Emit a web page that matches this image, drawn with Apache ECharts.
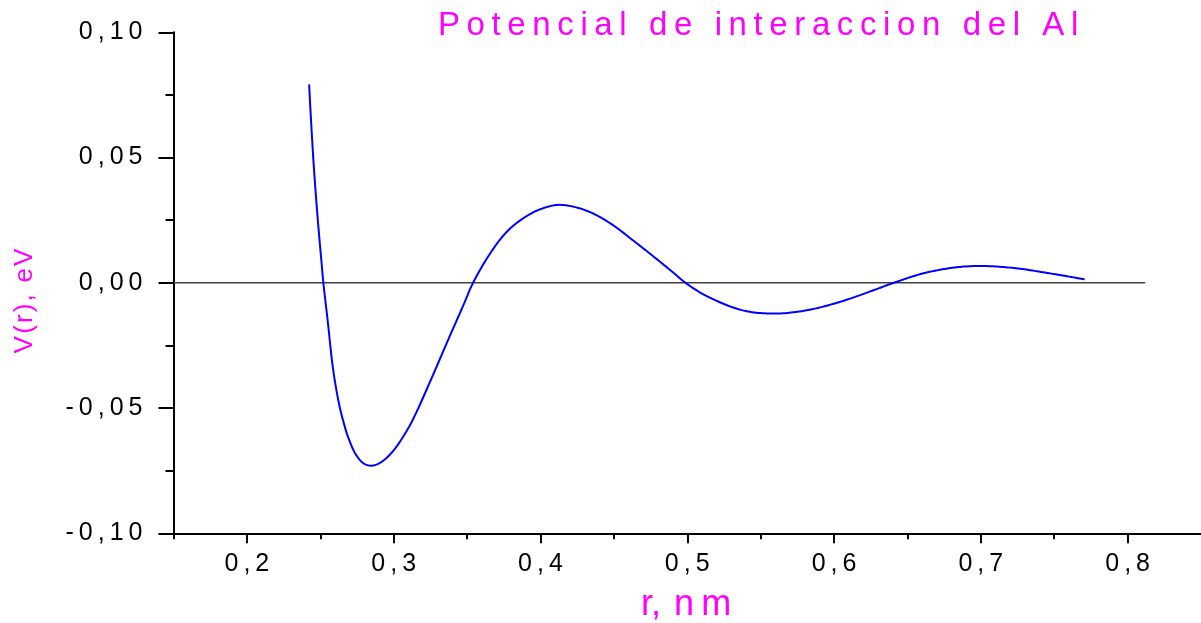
<!DOCTYPE html>
<html>
<head>
<meta charset="utf-8">
<script src="https://cdn.jsdelivr.net/npm/echarts@6/dist/echarts.min.js"></script>
<style>
  html, body { margin: 0; padding: 0; background: #ffffff; }
  #chart { width: 1201px; height: 623px; }
</style>
</head>
<body>
<div id="chart"></div>
<script>
// Interatomic pair potential of aluminium, V(r) in eV against r in nm
const rValues = [0.2424, 0.2433, 0.2453, 0.2469, 0.2487, 0.2507, 0.2521, 0.2550, 0.2588, 0.2627,
                 0.2656, 0.2689, 0.2743, 0.2798, 0.2852, 0.2912, 0.2994, 0.3095, 0.3149, 0.3253,
                 0.3365, 0.3478, 0.3541, 0.3658, 0.3771, 0.3884, 0.3996, 0.4120, 0.4244, 0.4357,
                 0.4492, 0.4627, 0.4785, 0.4898, 0.4988, 0.5123, 0.5371, 0.5596, 0.5821, 0.6047,
                 0.6272, 0.6407, 0.6610, 0.6835, 0.7015, 0.7240, 0.7466, 0.7707];
const vValues = [0.0792, 0.0690, 0.0490, 0.0357, 0.0224, 0.0091, 0.0000, -0.0149, -0.0348, -0.0481,
                 -0.0551, -0.0615, -0.0686, -0.0722, -0.0730, -0.0717, -0.0673, -0.0585, -0.0524, -0.0388,
                 -0.0236, -0.0085, 0.0000, 0.0118, 0.0204, 0.0258, 0.0293, 0.0311, 0.0301, 0.0277,
                 0.0231, 0.0171, 0.0098, 0.0044, 0.0000, -0.0050, -0.0109, -0.0123, -0.0109, -0.0075,
                 -0.0029, 0.0000, 0.0038, 0.0062, 0.0067, 0.0058, 0.0038, 0.0014];

// Reference line V = 0
const zeroLineR = [0.15, 0.812];
const zeroLineV = [0, 0];

// Axis ticks
const xMajorTicks = [0.2, 0.3, 0.4, 0.5, 0.6, 0.7, 0.8];
const xMinorTicks = [0.15, 0.25, 0.35, 0.45, 0.55, 0.65, 0.75];

const titleText = 'Potencial de interaccion del Al';
const xName = 'r,\u200A n\u2009m';
const yName = 'V(r), eV';

const THIN = '\u2009';
const HAIR = '\u200A';
const spaced = (s, gap) => s.split('').join(gap || THIN);
const FONT = '"Liberation Sans", Arial, Helvetica, sans-serif';
const MAGENTA = '#FF00FF';

// Centripetal Catmull-Rom through pixel points, sampled into a polyline
function splinePoints(pts, steps) {
  const n = pts.length;
  const get = i => {
    if (i < 0) return [2 * pts[0][0] - pts[1][0], 2 * pts[0][1] - pts[1][1]];
    if (i >= n) return [2 * pts[n - 1][0] - pts[n - 2][0], 2 * pts[n - 1][1] - pts[n - 2][1]];
    return pts[i];
  };
  const knot = (a, b) => Math.sqrt(Math.hypot(b[0] - a[0], b[1] - a[1])) || 1e-4;
  const out = [pts[0].slice()];
  for (let i = 0; i < n - 1; i++) {
    const p0 = get(i - 1), p1 = get(i), p2 = get(i + 1), p3 = get(i + 2);
    const t01 = knot(p0, p1), t12 = knot(p1, p2), t23 = knot(p2, p3);
    const c1 = [], c2 = [];
    for (let k = 0; k < 2; k++) {
      const m1 = t12 * ((p1[k] - p0[k]) / t01 - (p2[k] - p0[k]) / (t01 + t12) + (p2[k] - p1[k]) / t12);
      const m2 = t12 * ((p2[k] - p1[k]) / t12 - (p3[k] - p1[k]) / (t12 + t23) + (p3[k] - p2[k]) / t23);
      c1[k] = p1[k] + m1 / 3;
      c2[k] = p2[k] - m2 / 3;
    }
    for (let s = 1; s <= steps; s++) {
      const t = s / steps, u = 1 - t;
      const a = u * u * u, b = 3 * u * u * t, c = 3 * u * t * t, d = t * t * t;
      out.push([a * p1[0] + b * c1[0] + c * c2[0] + d * p2[0],
                a * p1[1] + b * c1[1] + c * c2[1] + d * p2[1]]);
    }
  }
  return out;
}

const chart = echarts.init(document.getElementById('chart'), null, { renderer: 'canvas' });

const axisLine = { show: true, onZero: false, lineStyle: { color: '#000', width: 2 } };

chart.setOption({
  animation: false,
  backgroundColor: '#ffffff',
  title: {
    text: spaced(titleText),
    left: 438,
    top: 9,
    padding: 0,
    textStyle: { color: MAGENTA, fontSize: 33, fontWeight: 'normal', fontFamily: FONT }
  },
  grid: { left: 173.5, top: 32.3, width: 1035.6, height: 501, containLabel: false },
  xAxis: [
    {
      type: 'value', min: 0.15, max: 0.85, position: 'bottom',
      axisLine: axisLine,
      axisTick: { show: true, customValues: xMajorTicks, length: 10, lineStyle: { color: '#000', width: 2 } },
      axisLabel: {
        show: true, customValues: xMajorTicks, margin: 18,
        color: '#000', fontSize: 25, fontFamily: FONT,
        formatter: v => spaced(v.toFixed(1).replace('.', ','))
      },
      splitLine: { show: false }
    },
    {
      type: 'value', min: 0.15, max: 0.85, position: 'bottom', offset: 0,
      axisLine: axisLine,
      axisTick: { show: true, customValues: xMinorTicks, length: 6, lineStyle: { color: '#000', width: 2 } },
      axisLabel: { show: false },
      splitLine: { show: false }
    }
  ],
  yAxis: {
    type: 'value', min: -0.1, max: 0.1, interval: 0.05,
    axisLine: axisLine,
    axisTick: { show: true, length: 15, lineStyle: { color: '#000', width: 2 } },
    minorTick: { show: true, splitNumber: 2, length: 8, lineStyle: { color: '#000', width: 2 } },
    axisLabel: {
      margin: 31, color: '#000', fontSize: 25, fontFamily: FONT,
      formatter: v => spaced(v.toFixed(2).replace('.', ','))
    },
    splitLine: { show: false },
    minorSplitLine: { show: false }
  },
  graphic: [
    {
      type: 'text', x: 25, y: 301, rotation: Math.PI / 2,
      style: { text: spaced(yName, HAIR), fill: MAGENTA, fontSize: 26, fontFamily: FONT, align: 'center', verticalAlign: 'middle' }
    },
    {
      type: 'text', x: 686, y: 605.5,
      style: { text: xName, fill: MAGENTA, fontSize: 36, fontFamily: FONT, align: 'center', verticalAlign: 'middle' }
    }
  ],
  series: [
    {
      type: 'line',
      xAxisIndex: 0,
      data: zeroLineR.map((r, i) => [r, zeroLineV[i]]),
      symbol: 'none',
      lineStyle: { color: '#404040', width: 1.5 },
      z: 2
    },
    {
      type: 'custom',
      xAxisIndex: 0,
      data: rValues.map((r, i) => [r, vValues[i]]),
      encode: { x: 0, y: 1 },
      z: 3,
      renderItem: (params, api) => {
        if (params.dataIndex !== 0) return null;
        const pts = rValues.map((r, i) => api.coord([r, vValues[i]]));
        return {
          type: 'polyline',
          shape: { points: splinePoints(pts, 16) },
          style: { stroke: '#0000FF', lineWidth: 2, fill: null, lineJoin: 'round' }
        };
      }
    }
  ]
});
</script>
</body>
</html>
